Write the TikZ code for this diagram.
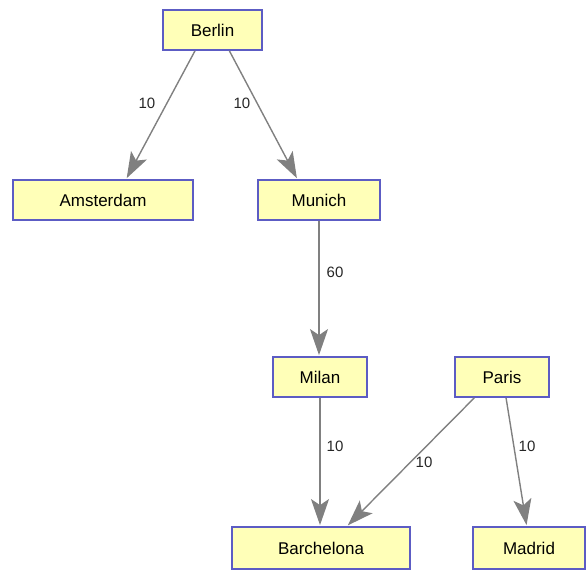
\documentclass[tikz,border=0pt]{standalone}
\usepackage{fontspec}
\setmainfont{Liberation Sans}
\usetikzlibrary{arrows.meta}
\definecolor{boxfill}{RGB}{255,255,184}
\definecolor{boxline}{RGB}{92,92,196}
\definecolor{edgegray}{RGB}{128,128,128}
\begin{document}
\begin{tikzpicture}[x=1pt,y=-1pt,
  city/.style={draw=boxline, fill=boxfill, line width=1.8pt, minimum height=40pt,
    inner sep=0pt, font=\fontsize{17}{20}\selectfont},
  link/.style={draw=edgegray, line width=1.4pt, shorten >=1pt,
    -{Stealth[length=26pt,width=18pt,inset=6pt]}},
  weight/.style={font=\fontsize{15}{17}\selectfont, text=black!85, inner sep=1pt}]
\useasboundingbox (0,0) rectangle (587,575);

% cities
\node[city, minimum width=99pt]  (berlin)    at (212.5,30)  {Berlin};
\node[city, minimum width=180pt] (amsterdam) at (103,200)   {Amsterdam};
\node[city, minimum width=122pt] (munich)    at (319,200)   {Munich};
\node[city, minimum width=94pt]  (milan)     at (320,377)   {Milan};
\node[city, minimum width=94pt]  (paris)     at (502,377)   {Paris};
\node[city, minimum width=178pt, minimum height=42pt] (barchelona) at (321,548) {Barchelona};
\node[city, minimum width=112pt, minimum height=42pt] (madrid)     at (529,548) {Madrid};

% routes
\draw[link] (berlin.-130) -- (amsterdam.42);
\draw[link] (berlin.-51)  -- (munich.136);
\draw[link] (munich.south) -- (milan.north -| munich.south);
\draw[link] (milan.south) -- (barchelona.north -| milan.south);
\draw[link] (paris.-143) -- (barchelona.40);
\draw[link] (paris.-79)  -- (madrid.96);

% distances
\node[weight] (w1) at (147,103) {10};
\node[weight] (w2) at (242,103) {10};
\node[weight] (w3) at (335,272) {60};
\node[weight] (w4) at (335,446) {10};
\node[weight] (w5) at (424,462) {10};
\node[weight] (w6) at (527,446) {10};
\end{tikzpicture}
\end{document}
